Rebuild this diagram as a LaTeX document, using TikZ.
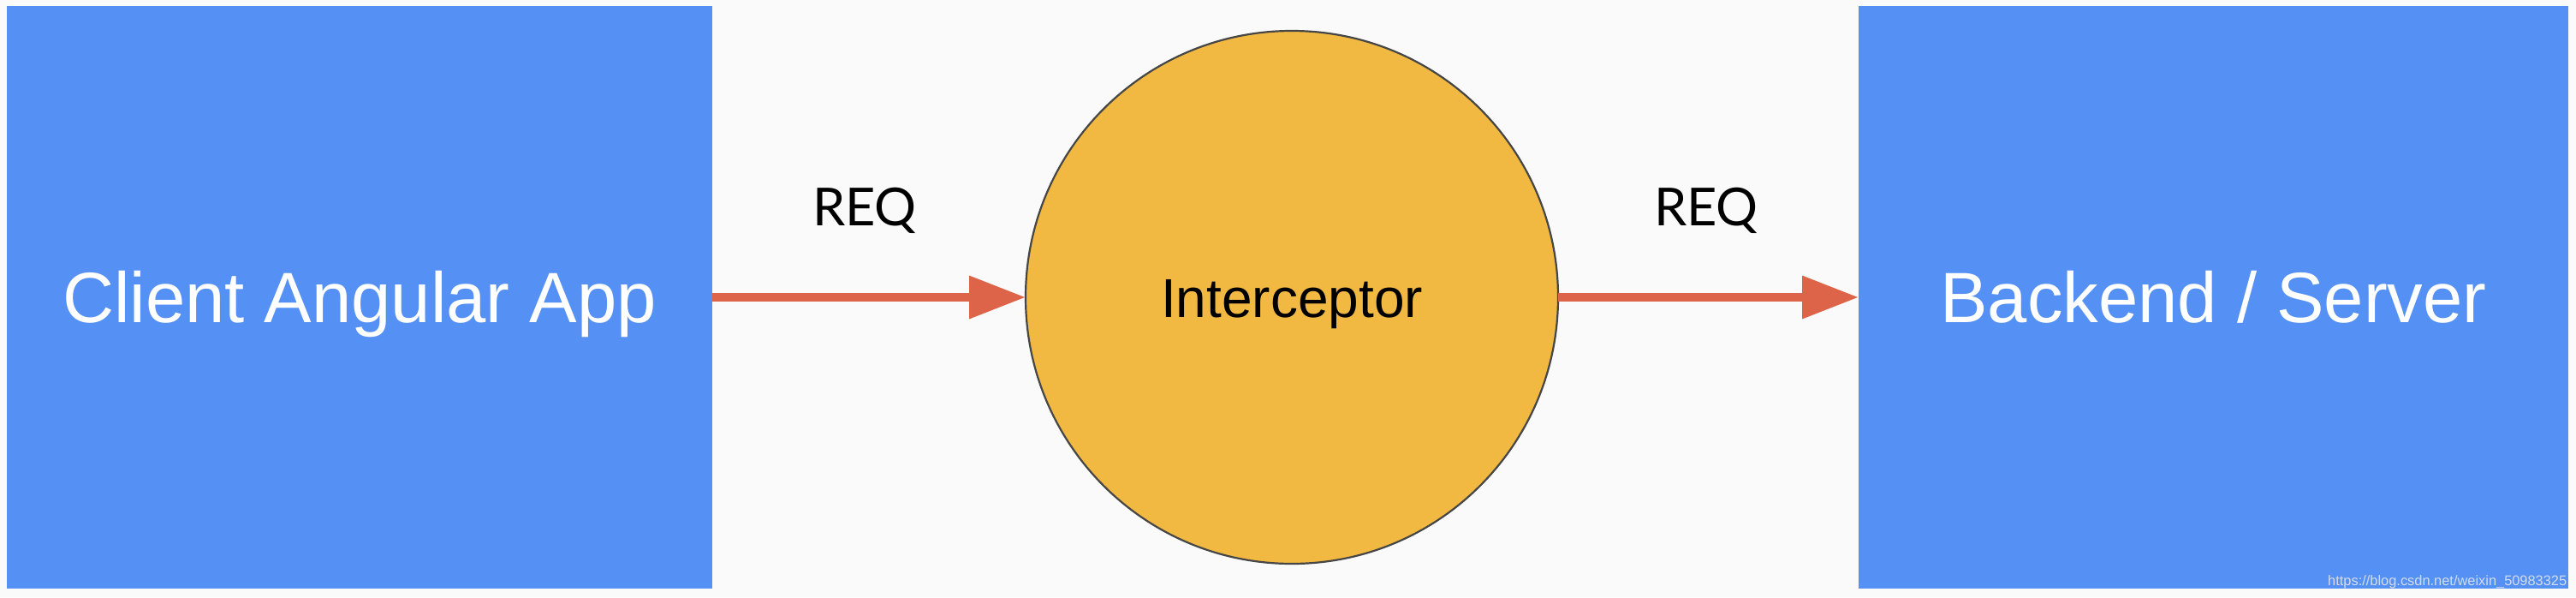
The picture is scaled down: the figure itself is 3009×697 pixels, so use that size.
\documentclass[tikz,border=0pt]{standalone}
\usepackage{fontspec}
\setmainfont{Liberation Sans}
\newfontfamily\reqfont{Lato}
\usetikzlibrary{arrows.meta}
\definecolor{bg}{RGB}{250,250,250}
\definecolor{boxblue}{RGB}{85,145,245}
\definecolor{circorange}{RGB}{242,185,66}
\definecolor{arrowred}{RGB}{221,100,72}
\definecolor{circedge}{RGB}{70,70,70}
\definecolor{wmark}{RGB}{212,220,232}
\tikzset{
  bluebox/.style={rectangle, fill=boxblue, draw=none, inner sep=0pt, outer sep=0pt,
    minimum height=170pt, text=white, font=\fontsize{20.8}{24}\selectfont,
    text height=14.9pt, text depth=0pt},
  interc/.style={circle, fill=circorange, draw=circedge, line width=0.55pt, inner sep=0pt,
    outer sep=0pt, minimum size=155.5pt, font=\fontsize{16}{19}\selectfont,
    text height=11.5pt, text depth=0pt},
  reqlabel/.style={font=\reqfont\fontsize{15.3}{18}\selectfont, anchor=base, inner sep=0pt},
  flow/.style={draw=arrowred, line width=2.5pt, -{Triangle[length=16.5pt, width=12pt]}},
}
\begin{document}
\begin{tikzpicture}[x=0.25pt,y=-0.25pt]
  \fill[bg] (0,0) rectangle (3009,697);
  \useasboundingbox (0,0) rectangle (3009,697);
  \node[bluebox, minimum width=206pt] (client) at (420,347) {Client Angular App};
  \node[bluebox, minimum width=207.25pt] (server) at (2585.5,347) {Backend / Server};
  \node[interc] (inter) at (1509,347) {Interceptor};
  \draw[flow] (client.east) -- (inter.west);
  \draw[flow] (inter.east) -- (server.west);
  \node[reqlabel] (req1) at (1010,263) {REQ};
  \node[reqlabel] (req2) at (1993,263) {REQ};
  \node[anchor=base east, inner sep=0pt, text=wmark, font=\fontsize{4.1}{5}\selectfont] (wm) at (2999,683) {https://blog.csdn.net/weixin\_50983325};
\end{tikzpicture}
\end{document}
